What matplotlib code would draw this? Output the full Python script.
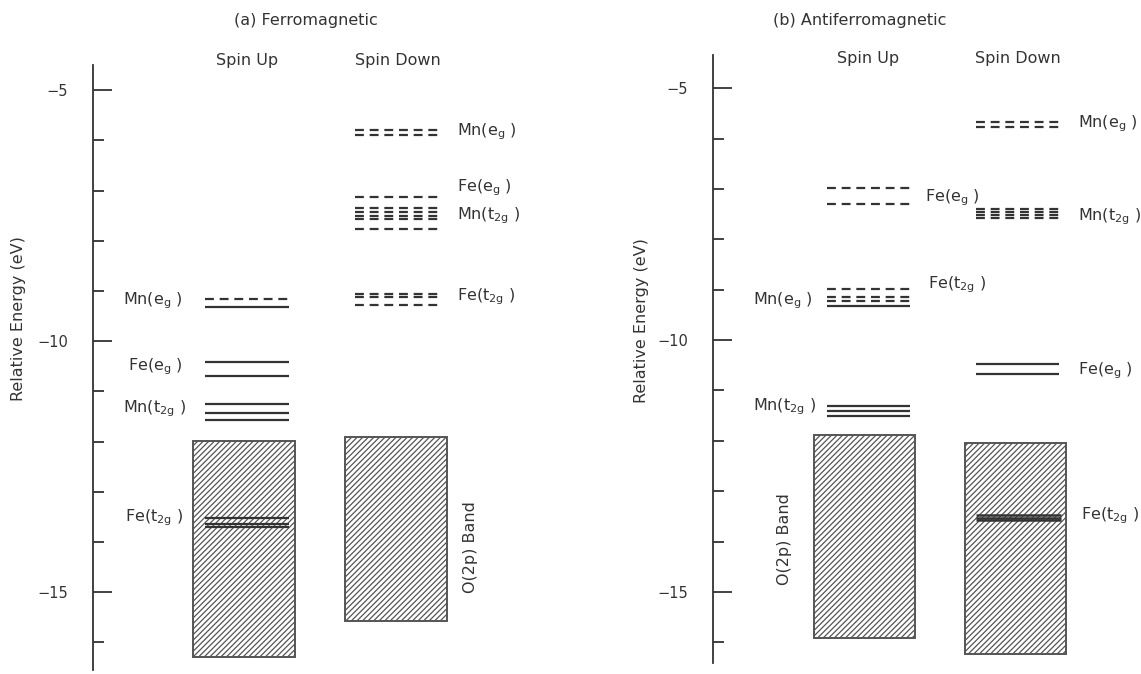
"""
Energy level diagram, ferromagnetic vs antiferromagnetic
"""
import matplotlib

matplotlib.use("Agg")
import matplotlib.pyplot as plt
from matplotlib.patches import Rectangle

plt.rcParams["font.family"] = ["DejaVu Sans"]
plt.rcParams["mathtext.default"] = "regular"
plt.rcParams["hatch.linewidth"] = 0.9

INK = "#333333"

# ---- (a) ferromagnetic, energies in eV ----
fm_up_mn_eg_dash = [-9.17]
fm_up_mn_eg_solid = [-9.32]
fm_up_fe_eg = [-10.42, -10.70]
fm_up_mn_t2g = [-11.26, -11.43, -11.57]
fm_up_fe_t2g = [-13.52, -13.65, -13.70]
fm_up_band = (-11.99, -16.29)

fm_dn_mn_eg = [-5.80, -5.90]
fm_dn_fe_eg = [-7.13]
fm_dn_mn_t2g = [-7.35, -7.42, -7.50, -7.57, -7.76]
fm_dn_fe_t2g = [-9.06, -9.12, -9.28]
fm_dn_band = (-11.90, -15.58)

# ---- (b) antiferromagnetic ----
afm_up_fe_eg = [-6.99, -7.30]
afm_up_fe_t2g = [-8.98]
afm_up_mn_eg_dash = [-9.15, -9.22]
afm_up_mn_eg_solid = [-9.33]
afm_up_mn_t2g = [-11.30, -11.41, -11.51]
afm_up_band = (-11.89, -15.91)

afm_dn_mn_eg = [-5.68, -5.77]
afm_dn_mn_t2g = [-7.40, -7.46, -7.52, -7.58]
afm_dn_fe_eg = [-10.47, -10.68]
afm_dn_fe_t2g = [-13.48, -13.53, -13.58]
afm_dn_band = (-12.04, -16.24)

MN_EG = "Mn(e$_g$ )"
FE_EG = "Fe(e$_g$ )"
MN_T2G = "Mn(t$_{2g}$ )"
FE_T2G = "Fe(t$_{2g}$ )"

DASH = (0, (4, 2.6))

W, H = 1141, 674
fig = plt.figure(figsize=(W / 100, H / 100), dpi=100)


def make_axes(x_axis, y_top, y_bot, ylim):
    # x data units are figure pixels so columns can be laid out directly
    ax = fig.add_axes([x_axis / W, (H - y_bot) / H, (W - x_axis) / W,
                       (y_bot - y_top) / H])
    ax.set_xlim(x_axis, W)
    ax.set_ylim(*ylim)
    for s in ("top", "right", "bottom"):
        ax.spines[s].set_visible(False)
    ax.spines["left"].set_color(INK)
    ax.spines["left"].set_linewidth(1.3)
    ax.set_xticks([])
    ax.set_yticks([-5, -10, -15])
    ax.set_yticks(range(-16, -4), minor=True)
    ax.tick_params(axis="y", which="major", direction="in", length=14,
                   width=1.3, pad=18, labelsize=10.5, colors=INK)
    ax.tick_params(axis="y", which="minor", direction="in", length=8,
                   width=1.3, colors=INK)
    ax.patch.set_alpha(0)
    return ax


def levels(ax, ys, x0, x1, dashed=False, lw=1.6):
    ax.hlines(ys, x0, x1, colors=INK, lw=lw,
              linestyles=DASH if dashed else "solid")


def band(ax, top_bot, x0, x1):
    top, bot = top_bot
    ax.add_patch(Rectangle((x0, bot), x1 - x0, top - bot, fill=False,
                           hatch="//////", edgecolor="#555555", lw=1.4))


def label(ax, x, y, s, ha):
    ax.text(x, y, s, ha=ha, va="center", fontsize=11.5, color=INK,
            clip_on=False)


def heading(ax, x, y, s, size=11.5):
    ax.text(x, y, s, ha="center", va="center", fontsize=size, color=INK,
            clip_on=False)


# ================= (a) Ferromagnetic =================
ax = make_axes(93, 65, 670, (-16.55, -4.50))
up0, up1 = 205, 289
dn0, dn1 = 355, 440

levels(ax, fm_up_mn_eg_dash, up0, up1, dashed=True)
levels(ax, fm_up_mn_eg_solid, up0, up1)
levels(ax, fm_up_fe_eg, up0, up1)
levels(ax, fm_up_mn_t2g, up0, up1)
band(ax, fm_up_band, 193, 295)
levels(ax, fm_up_fe_t2g, up0, up1)

levels(ax, fm_dn_mn_eg, dn0, dn1, dashed=True)
levels(ax, fm_dn_fe_eg, dn0, dn1, dashed=True)
levels(ax, fm_dn_mn_t2g, dn0, dn1, dashed=True)
levels(ax, fm_dn_fe_t2g, dn0, dn1, dashed=True)
band(ax, fm_dn_band, 345, 447)

label(ax, 183, -9.20, MN_EG, "right")
label(ax, 183, -10.50, FE_EG, "right")
label(ax, 186, -11.35, MN_T2G, "right")
label(ax, 183, -13.52, FE_T2G, "right")
label(ax, 457, -5.82, MN_EG, "left")
label(ax, 457, -6.95, FE_EG, "left")
label(ax, 457, -7.50, MN_T2G, "left")
label(ax, 457, -9.12, FE_T2G, "left")
ax.text(470, -14.1, "O(2p) Band", rotation=90, ha="center", va="center",
        fontsize=11.5, color=INK)

heading(ax, (up0 + up1) / 2, -4.42, "Spin Up")
heading(ax, (dn0 + dn1) / 2, -4.42, "Spin Down")
heading(ax, 306, -3.61, "(a) Ferromagnetic", size=11.5)
ax.set_ylabel("Relative Energy (eV)", fontsize=11.5, color=INK)
ax.yaxis.set_label_coords(26, -9.56, transform=ax.transData)

# ================= (b) Antiferromagnetic =================
ax = make_axes(713, 55, 663, (-16.41, -4.34))
up0, up1 = 827, 910
dn0, dn1 = 976, 1059

levels(ax, afm_up_fe_eg, up0, up1, dashed=True)
levels(ax, afm_up_fe_t2g, up0, up1, dashed=True)
levels(ax, afm_up_mn_eg_dash, up0, up1, dashed=True)
levels(ax, afm_up_mn_eg_solid, up0, up1)
levels(ax, afm_up_mn_t2g, up0, up1)
band(ax, afm_up_band, 814, 915)

levels(ax, afm_dn_mn_eg, dn0, dn1, dashed=True)
levels(ax, afm_dn_mn_t2g, dn0, dn1, dashed=True)
levels(ax, afm_dn_fe_eg, dn0, dn1)
band(ax, afm_dn_band, 965, 1066)
levels(ax, afm_dn_fe_t2g, 976, 1061, lw=1.8)

label(ax, 925, -7.17, FE_EG, "left")
label(ax, 928, -8.90, FE_T2G, "left")
label(ax, 813, -9.22, MN_EG, "right")
label(ax, 816, -11.33, MN_T2G, "right")
label(ax, 1078, -5.70, MN_EG, "left")
label(ax, 1078, -7.55, MN_T2G, "left")
label(ax, 1078, -10.60, FE_EG, "left")
label(ax, 1081, -13.48, FE_T2G, "left")
ax.text(785, -13.95, "O(2p) Band", rotation=90, ha="center", va="center",
        fontsize=11.5, color=INK)

heading(ax, (up0 + up1) / 2, -4.40, "Spin Up")
heading(ax, (dn0 + dn1) / 2, -4.40, "Spin Down")
heading(ax, 860, -3.65, "(b) Antiferromagnetic", size=11.5)
ax.set_ylabel("Relative Energy (eV)", fontsize=11.5, color=INK)
ax.yaxis.set_label_coords(649, -9.62, transform=ax.transData)

fig.savefig("out.png", dpi=100, facecolor="white")
